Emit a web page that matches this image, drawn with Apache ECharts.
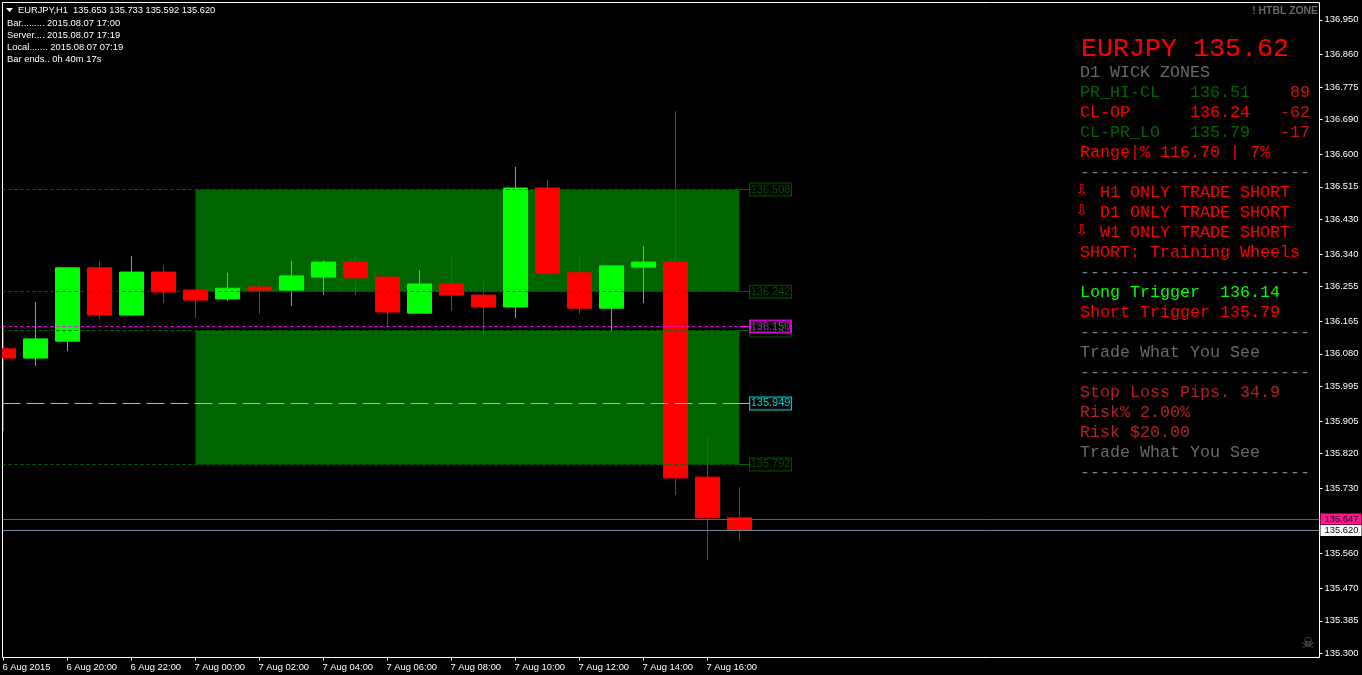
<!DOCTYPE html>
<html>
<head>
<meta charset="utf-8">
<style>html,body{margin:0;padding:0;background:#000;overflow:hidden}#c{width:1362px;height:675px}</style>
<script src="https://cdn.jsdelivr.net/npm/echarts@6/dist/echarts.min.js"></script>
</head>
<body>
<div id="c"></div>
<script>
// Hours counted from 6 Aug 2015 18:00
const hours = [0,1,2,3,4,5,6,7,8,9,10,11,12,13,14,15,16,17,18,19,20,21,22,23];
const opens = [136.093,136.069,136.113,136.304,136.181,136.293,136.246,136.223,136.254,136.246,136.280,136.319,136.280,136.186,136.262,136.233,136.202,136.512,136.291,136.199,136.306,136.319,135.759,135.653];
const closes = [136.069,136.119,136.304,136.181,136.293,136.241,136.220,136.251,136.246,136.283,136.319,136.278,136.189,136.262,136.233,136.202,136.512,136.289,136.199,136.309,136.319,135.757,135.653,135.620];
const lows = [135.879,136.048,136.087,136.171,136.179,136.212,136.173,136.218,136.184,136.205,136.233,136.233,136.153,136.186,136.192,136.126,136.173,136.284,136.184,136.138,136.212,135.712,135.543,135.592];
const highs = [136.153,136.215,136.306,136.322,136.335,136.311,136.246,136.291,136.270,136.322,136.324,136.337,136.280,136.298,136.337,136.275,136.567,136.533,136.335,136.309,136.361,136.712,135.866,135.733];

const xTickHours = [0,2,4,6,8,10,12,14,16,18,20,22];
const xTickLabels = ['6 Aug 2015','6 Aug 20:00','6 Aug 22:00','7 Aug 00:00','7 Aug 02:00','7 Aug 04:00','7 Aug 06:00','7 Aug 08:00','7 Aug 10:00','7 Aug 12:00','7 Aug 14:00','7 Aug 16:00'];
const yTickValues = [136.950,136.860,136.775,136.690,136.600,136.515,136.430,136.340,136.255,136.165,136.080,135.995,135.905,135.820,135.730,135.560,135.470,135.385,135.300];

const zoneTops = [136.508,136.141];
const zoneBottoms = [136.242,135.792];
const zoneLevels = [136.508,136.242,136.141,135.792];
const triggerLevel = 136.151;
const triggerLabel = '136.150';
const stopLevel = 135.951;
const stopLabel = '135.949';
const askLevel = 135.6486;
const askLabel = '135.647';
const bidLevel = 135.620;
const bidLabel = '135.620';
const zoneStartHour = 6;
const zoneEndHour = 23;

const candleData = hours.map((h,i)=>[h,opens[i],closes[i],lows[i],highs[i]]);

const RED='#ff0000',DG='#006400',LIME='#00ff00',GRAY='#696969',SLATE='#708090',FIRE='#b22222',ROSE='#c81414';
const MONO='"Liberation Mono", monospace';
const dash='-----------------------';
const panelRows=[
 [73,[[0,'D1 WICK ZONES',GRAY]]],
 [93,[[0,'PR_HI-CL',DG],[11,'136.51',DG],[21,'89',ROSE]]],
 [113,[[0,'CL-OP',RED],[11,'136.24',RED],[20,'-62',ROSE]]],
 [133,[[0,'CL-PR_LO',DG],[11,'135.79',DG],[20,'-17',ROSE]]],
 [153,[[0,'Range|% 116.70 | 7%',RED]]],
 [173,[[0,dash,SLATE]]],
 [193,[[2,'H1 ONLY TRADE SHORT',RED]]],
 [213,[[2,'D1 ONLY TRADE SHORT',RED]]],
 [233,[[2,'W1 ONLY TRADE SHORT',RED]]],
 [253,[[0,'SHORT: Training Wheels',RED]]],
 [273,[[0,dash,SLATE]]],
 [293,[[0,'Long Trigger  136.14',LIME]]],
 [313,[[0,'Short Trigger 135.79',RED]]],
 [333,[[0,dash,SLATE]]],
 [353,[[0,'Trade What You See',GRAY]]],
 [373,[[0,dash,SLATE]]],
 [393,[[0,'Stop Loss Pips. 34.9',FIRE]]],
 [413,[[0,'Risk% 2.00%',FIRE]]],
 [433,[[0,'Risk $20.00',FIRE]]],
 [453,[[0,'Trade What You See',GRAY]]],
 [473,[[0,dash,SLATE]]]
];
const graphics=[];
function txt(x,y,text,fill,font,align){
  graphics.push({type:'text',silent:true,z:50,style:{x,y,text,fill,font,textAlign:align||'left',textVerticalAlign:'middle'}});
}
txt(1081,49,'EURJPY 135.62',RED,'26.67px '+MONO);
panelRows.forEach(r=>r[1].forEach(c=>txt(1080+c[0]*10,r[0],c[1],c[2],'16.67px '+MONO)));
[191,211,231].forEach(y=>txt(1082,y,'⇩',RED,'15px "DejaVu Sans"','center'));
const SMALL='9.4px "Liberation Sans"';
txt(18,10.5,'EURJPY,H1  135.653 135.733 135.592 135.620','#fff','9.3px "Liberation Sans"');
txt(7,23.5,'Bar......... 2015.08.07 17:00','#fff',SMALL);
txt(7,35.5,'Server.... 2015.08.07 17:19','#fff',SMALL);
txt(7,47.5,'Local....... 2015.08.07 07:19','#fff',SMALL);
txt(7,59.5,'Bar ends.. 0h 40m 17s','#fff',SMALL);
txt(1318,11,'! HTBL ZONE',GRAY,'bold 10.4px "Liberation Sans"','right');
txt(1308,644,'☠',GRAY,'15px "DejaVu Sans"','center');
graphics.push({type:'polygon',silent:true,z:50,shape:{points:[[6,8],[13,8],[9.5,12]]},style:{fill:'#fff'}});
// margin left of the plot frame stays black
graphics.push({type:'rect',silent:true,z:40,shape:{x:0,y:0,width:2,height:675},style:{fill:'#000'}});

const xMin=-0.03125,xMax=41.125,lineEnd=23.33,labelHour=23.97;
function seg(y,x0,x1,color,type){
  return [{coord:[x0,y],lineStyle:{color,type,width:1}},{coord:[x1,y]}];
}
const levelLines=[];
zoneLevels.forEach(v=>{levelLines.push(seg(v,xMin,zoneEndHour,DG,[3,3]));levelLines.push(seg(v,zoneEndHour,lineEnd,DG,'solid'));});
levelLines.push(seg(triggerLevel,xMin,zoneEndHour,'#ff00ff',[3,3]));
levelLines.push(seg(triggerLevel,zoneEndHour,lineEnd,'#ff00ff','solid'));
levelLines.push(seg(stopLevel,xMin,zoneEndHour,'#00ffff',[18,6]));
levelLines.push(seg(stopLevel,zoneEndHour,lineEnd,'#00ffff','solid'));

function boxLabel(v,text,color,bg){
  return {value:[labelHour,v],label:{show:true,position:'inside',formatter:text,color,fontFamily:'Liberation Sans',fontSize:11,
    backgroundColor:bg,borderColor:color,borderWidth:1,padding:[0,2,0,2],width:37,height:12,lineHeight:12,align:'center',verticalAlign:'middle'}};
}
function priceMark(v,text,bg,line){
  return {yAxis:v,lineStyle:{color:line,type:'solid',width:1},
    label:{show:true,position:'end',distance:1,formatter:text,color:'#000',backgroundColor:bg,fontFamily:'Liberation Sans',fontSize:9.4,padding:[1,3,0,4],width:34,height:10,lineHeight:10}};
}

const chart=echarts.init(document.getElementById('c'),null,{renderer:'canvas'});
chart.setOption({
  animation:false,
  backgroundColor:'#000',
  tooltip:{show:false},
  grid:{show:true,left:2.5,top:2.5,width:1317,height:655,borderColor:'#fff',borderWidth:1,backgroundColor:'#000',containLabel:false,outerBoundsMode:'none'},
  xAxis:{type:'value',min:xMin,max:xMax,containShape:false,splitLine:{show:false},axisLine:{show:false,onZero:false},
    axisTick:{show:true,length:3,lineStyle:{color:'#fff'},customValues:xTickHours},
    axisLabel:{show:true,customValues:xTickHours,color:'#fff',fontFamily:'Liberation Sans',fontSize:9.4,align:'left',margin:5,padding:[0,0,0,-1],
      formatter:v=>xTickLabels[xTickHours.indexOf(v)]}},
  yAxis:{type:'value',position:'right',min:135.2893,max:136.995,splitLine:{show:false},axisLine:{show:false,onZero:false},
    axisTick:{show:true,length:3,lineStyle:{color:'#fff'},customValues:yTickValues},
    axisLabel:{show:true,customValues:yTickValues,color:'#fff',fontFamily:'Liberation Sans',fontSize:9.4,margin:5,formatter:v=>v.toFixed(3)}},
  graphic:graphics,
  series:[
    {type:'line',name:'zones',z:1,data:[],silent:true,
      markArea:{silent:true,itemStyle:{color:DG,opacity:1},label:{show:false},
        data:zoneTops.map((t,i)=>[{coord:[zoneStartHour,t]},{coord:[zoneEndHour,zoneBottoms[i]]}])}},
    {type:'candlestick',name:'EURJPY,H1',z:2,silent:true,barWidth:24,data:candleData,encode:{x:0,y:[1,2,3,4]},
      itemStyle:{color:LIME,color0:RED,borderColor:LIME,borderColor0:RED,borderWidth:1}},
    {type:'line',name:'levels',z:3,data:[],silent:true,
      markLine:{silent:true,symbol:'none',animation:false,label:{show:false},data:levelLines}},
    {type:'line',name:'prices',z:3,data:[],silent:true,
      markLine:{silent:true,symbol:'none',animation:false,data:[priceMark(askLevel,askLabel,'#ff1493','#d0208c'),priceMark(bidLevel,bidLabel,'#ffffff','#778899')]}},
    {type:'scatter',name:'zone labels',z:4,symbolSize:1,silent:true,itemStyle:{color:'transparent'},
      data:zoneLevels.map(v=>boxLabel(v,v.toFixed(3),DG,'#000'))
        .concat([boxLabel(triggerLevel,triggerLabel,'#ff00ff','transparent'),boxLabel(stopLevel,stopLabel,'#00ffff','#000')])}
  ]
});
</script>
</body>
</html>
